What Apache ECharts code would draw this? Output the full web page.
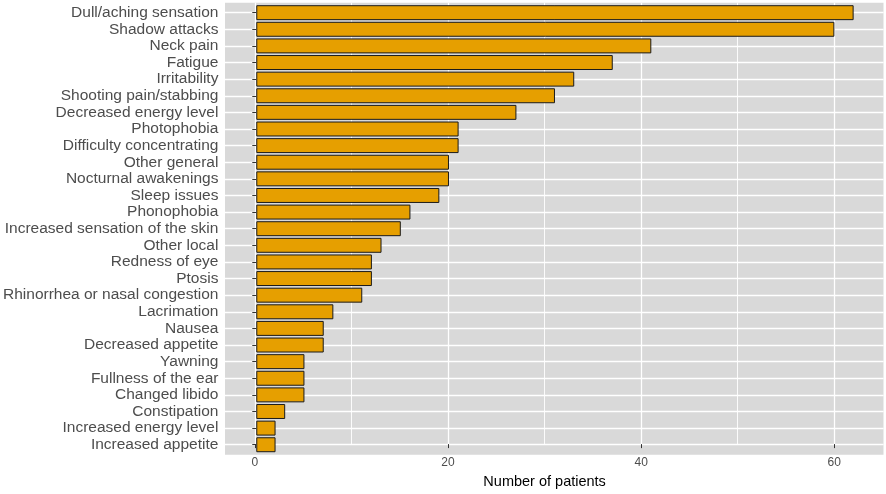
<!DOCTYPE html>
<html>
<head>
<meta charset="utf-8">
<script src="https://cdn.jsdelivr.net/npm/echarts@6/dist/echarts.min.js"></script>
<style>
  html, body { margin: 0; padding: 0; background: #fff; }
  #chart { width: 886px; height: 494px; }
</style>
</head>
<body>
<div id="chart"></div>
<script>
// symptoms, top to bottom
const symptoms = [
  'Dull/aching sensation', 'Shadow attacks', 'Neck pain', 'Fatigue', 'Irritability',
  'Shooting pain/stabbing', 'Decreased energy level', 'Photophobia', 'Difficulty concentrating',
  'Other general', 'Nocturnal awakenings', 'Sleep issues', 'Phonophobia',
  'Increased sensation of the skin', 'Other local', 'Redness of eye', 'Ptosis',
  'Rhinorrhea or nasal congestion', 'Lacrimation', 'Nausea', 'Decreased appetite', 'Yawning',
  'Fullness of the ear', 'Changed libido', 'Constipation', 'Increased energy level',
  'Increased appetite'
];
const patients = [62, 60, 41, 37, 33, 31, 27, 21, 21, 20, 20, 19, 16, 15, 13, 12, 12, 11, 8, 7, 7, 5, 5, 5, 3, 2, 2];
const xTicks = [0, 20, 40, 60];

const FONT = '"Liberation Sans", Arial, sans-serif';
const W = 886, H = 494;

// panel geometry, ggplot style expansion (5% continuous, 0.6 discrete)
const panelLeft = 225, panelRight = 2.5, panelTop = 2.7, panelBottom = 39.3;
const dataMax = Math.max(...patients);
const pad = dataMax * 0.05;
const xMin = -pad, xMax = dataMax + pad;
const panelW = W - panelLeft - panelRight;
const panelH = H - panelTop - panelBottom;
const pxPerUnit = panelW / (xMax - xMin);
const n = symptoms.length;
const pxPerCat = panelH / (n + 0.2);
// bar grid: category bands give 0.5 at each end, ggplot gives 0.6
const catInset = 0.1 * pxPerCat;
// labelled x axis grid spans first to last tick
const tickLeft = panelLeft + (xTicks[0] - xMin) * pxPerUnit;
const tickRight = W - (panelLeft + (xTicks[xTicks.length - 1] - xMin) * pxPerUnit);

const chart = echarts.init(document.getElementById('chart'), null, { renderer: 'canvas' });

const option = {
  animation: false,
  backgroundColor: '#fff',
  grid: [
    // 0: grey panel + horizontal gridlines
    {
      left: panelLeft, right: panelRight, top: panelTop, bottom: panelBottom,
      show: true, backgroundColor: '#D9D9D9', borderWidth: 0
    },
    // 1: bars + category labels
    {
      left: panelLeft, right: panelRight, top: panelTop + catInset, bottom: panelBottom + catInset,
      show: false
    },
    // 2: x axis ticks, labels, vertical gridlines
    {
      left: tickLeft, right: tickRight, top: panelTop, bottom: panelBottom,
      show: false
    }
  ],
  xAxis: [
    { gridIndex: 0, type: 'value', min: 0, max: 1, show: false },
    { gridIndex: 1, type: 'value', min: xMin, max: xMax, show: false },
    {
      gridIndex: 2, type: 'value',
      min: xTicks[0], max: xTicks[xTicks.length - 1], interval: xTicks[1] - xTicks[0],
      name: 'Number of patients', nameLocation: 'middle', nameGap: 28,
      nameTextStyle: { color: '#000', fontSize: 14.5, fontFamily: FONT },
      axisLine: { show: false },
      axisTick: { show: true, length: 4, lineStyle: { color: '#333', width: 1 } },
      axisLabel: { color: '#4D4D4D', fontSize: 12, fontFamily: FONT, margin: 13 },
      splitLine: { show: true, lineStyle: { color: '#fff', width: 1.3 } },
      minorTick: { show: false, splitNumber: 2 },
      minorSplitLine: { show: true, lineStyle: { color: '#fff', width: 0.9 } }
    }
  ],
  yAxis: [
    {
      // index positions of the categories, only for gridlines through bar centres
      gridIndex: 0, type: 'value', inverse: true,
      min: -0.6, max: n - 1 + 0.6, splitNumber: n,
      axisLine: { show: false }, axisTick: { show: false }, axisLabel: { show: false },
      splitLine: { show: true, showMinLine: false, showMaxLine: false, lineStyle: { color: '#fff', width: 1.3 } }
    },
    {
      gridIndex: 1, type: 'category', data: symptoms, inverse: true,
      axisLine: { show: false },
      axisTick: { show: true, alignWithLabel: true, length: 4, lineStyle: { color: '#333' } },
      axisLabel: { color: '#4D4D4D', fontSize: 15.5, fontFamily: FONT, margin: 8, interval: 0 },
      splitLine: { show: false }
    },
    { gridIndex: 2, type: 'value', min: 0, max: 1, show: false }
  ],
  series: [
    {
      type: 'bar',
      xAxisIndex: 1, yAxisIndex: 1,
      data: patients,
      barCategoryGap: '10%',
      itemStyle: { color: '#E69F00', borderColor: '#1a1a1a', borderWidth: 1 }
    }
  ]
};

chart.setOption(option);
</script>
</body>
</html>
